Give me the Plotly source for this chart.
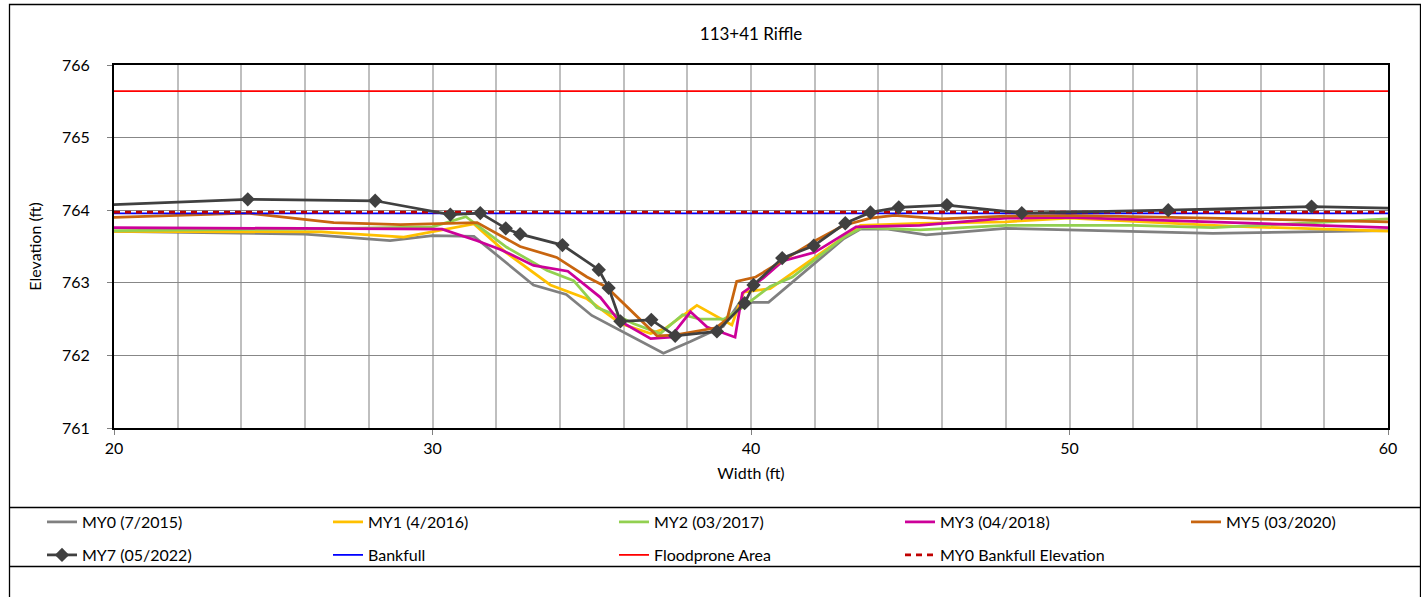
import plotly.graph_objects as go

# ---------------- data ----------------
my0_x = [20, 26, 28.67, 30.0, 31.3, 33.17, 34.2, 35.0, 37.25, 38.1, 39.13, 39.65, 40.55, 42.92, 43.44, 44.3, 45.5, 48.0, 54.5, 60]
my0_y = [763.71, 763.67, 763.58, 763.65, 763.64, 762.97, 762.84, 762.55, 762.03, 762.19, 762.40, 762.73, 762.73, 763.61, 763.74, 763.74, 763.66, 763.75, 763.68, 763.72]

my1_x = [20, 26.5, 29.1, 30.4, 31.3, 32.3, 33.7, 34.85, 35.9, 36.85, 37.3, 38.3, 39.4, 39.77, 40.6, 43.44, 45.3, 48.0, 50.0, 55, 60]
my1_y = [763.71, 763.70, 763.63, 763.74, 763.81, 763.42, 762.97, 762.78, 762.44, 762.30, 762.37, 762.69, 762.42, 762.87, 762.92, 763.79, 763.82, 763.84, 763.89, 763.78, 763.71]

my2_x = [20, 26, 30.0, 31.05, 32.33, 33.6, 34.43, 35.16, 35.8, 36.3, 37.15, 37.85, 38.4, 39.15, 39.7, 40.6, 41.3, 42.0, 42.92, 43.5, 45.3, 48, 52, 54.5, 60]
my2_y = [763.72, 763.74, 763.77, 763.91, 763.49, 763.17, 763.03, 762.66, 762.55, 762.44, 762.30, 762.56, 762.50, 762.50, 762.65, 762.95, 763.08, 763.32, 763.63, 763.76, 763.73, 763.79, 763.79, 763.76, 763.88]

my3_x = [20, 30.3, 31.4, 32.13, 33.17, 34.25, 35.27, 35.85, 36.85, 37.47, 38.1, 38.62, 39.5, 39.73, 40.4, 41.0, 42.0, 43.3, 45.3, 48.0, 50, 60]
my3_y = [763.76, 763.74, 763.58, 763.46, 763.24, 763.16, 762.80, 762.48, 762.23, 762.25, 762.60, 762.39, 762.25, 762.86, 763.07, 763.30, 763.42, 763.77, 763.79, 763.89, 763.90, 763.76]

my5_x = [20, 24.2, 26.9, 29.0, 31.4, 32.75, 33.9, 34.85, 35.47, 35.9, 37.05, 37.6, 38.9, 39.25, 39.55, 40.15, 41.0, 42.06, 42.9, 43.75, 44.5, 46, 48, 50, 60]
my5_y = [763.90, 763.96, 763.83, 763.80, 763.83, 763.50, 763.35, 763.08, 762.94, 762.76, 762.27, 762.28, 762.38, 762.50, 763.02, 763.08, 763.31, 763.59, 763.79, 763.89, 763.93, 763.88, 763.92, 763.93, 763.84]

my7_x = [19.0, 24.2, 28.2, 30.56, 31.5, 32.3, 32.75, 34.08, 35.22, 35.53, 35.9, 36.87, 37.62, 38.93, 39.8, 40.08, 40.98, 41.97, 42.96, 43.75, 44.64, 46.15, 48.5, 53.1, 57.6, 61.0]
my7_y = [764.06, 764.15, 764.13, 763.94, 763.96, 763.75, 763.67, 763.52, 763.18, 762.93, 762.47, 762.49, 762.27, 762.33, 762.72, 762.97, 763.34, 763.51, 763.82, 763.97, 764.04, 764.07, 763.96, 764.00, 764.05, 764.02]

ext_x = [20, 60]
bankfull_y = [763.957, 763.957]
floodprone_y = [765.64, 765.64]
my0_bkf_y = [763.975, 763.975]

title_text = "113+41 Riffle"
x_title = "Width (ft)"
y_title = "Elevation (ft)"

# ---------------- layout constants (pixels) ----------------
W, H = 1421, 597
ML, MR, MT, MB = 114, 33, 65, 169
PW, PH = W - ML - MR, H - MT - MB
COLW = 286       # legend column spacing
LEG_X0 = 42      # legend start

def px_x(p):
    return (p - ML) / PW

def px_y(p):
    return (H - MB - p) / PH

FONT = "Lato, 'Liberation Sans', sans-serif"

fig = go.Figure()

series = [
    ("MY0 (7/2015)", my0_x, my0_y, "#808080", "legend"),
    ("MY1 (4/2016)", my1_x, my1_y, "#FFC000", "legend"),
    ("MY2 (03/2017)", my2_x, my2_y, "#92D050", "legend"),
    ("MY3 (04/2018)", my3_x, my3_y, "#CC0099", "legend"),
    ("MY5 (03/2020)", my5_x, my5_y, "#C8650F", "legend3"),
]
for name, xs, ys, col, lg in series:
    fig.add_trace(go.Scatter(x=xs, y=ys, mode="lines", name=name,
                             line=dict(color=col, width=2.75), legend=lg))

fig.add_trace(go.Scatter(x=ext_x, y=bankfull_y, mode="lines", name="Bankfull",
                         line=dict(color="#0000FF", width=1.75), legend="legend2", legendrank=2))
fig.add_trace(go.Scatter(x=ext_x, y=floodprone_y, mode="lines", name="Floodprone Area",
                         line=dict(color="#FF0000", width=1.75), legend="legend2", legendrank=3))
fig.add_trace(go.Scatter(x=ext_x, y=my0_bkf_y, mode="lines", name="MY0 Bankfull Elevation",
                         line=dict(color="#C00000", width=2.75, dash="6px,5px"), legend="legend2",
                         legendrank=4))
fig.add_trace(go.Scatter(x=my7_x, y=my7_y, mode="lines+markers", name="MY7 (05/2022)",
                         line=dict(color="#404040", width=2.75),
                         marker=dict(symbol="diamond", size=11, color="#404040"),
                         legend="legend2", legendrank=1))

shapes = [
    # outer chart border
    dict(type="rect", xref="paper", yref="paper",
         x0=px_x(9.5), x1=px_x(1420.5), y0=px_y(600), y1=px_y(4.5),
         line=dict(color="#000000", width=1.3), fillcolor="rgba(0,0,0,0)", layer="below"),
    # legend box lines
    dict(type="line", xref="paper", yref="paper", x0=px_x(9.5), x1=px_x(1421),
         y0=px_y(507.5), y1=px_y(507.5), line=dict(color="#000000", width=1.3)),
    dict(type="line", xref="paper", yref="paper", x0=px_x(9.5), x1=px_x(1421),
         y0=px_y(566.5), y1=px_y(566.5), line=dict(color="#000000", width=1.3)),
]

leg_common = dict(orientation="h", entrywidth=COLW - 45, entrywidthmode="pixels",
                  font=dict(family=FONT, size=16, color="#000000"),
                  bgcolor="rgba(0,0,0,0)", borderwidth=0, xanchor="left", yanchor="middle",
                  traceorder="normal")

fig.update_layout(
    width=W, height=H,
    margin=dict(l=ML, r=MR, t=MT, b=MB, autoexpand=False),
    paper_bgcolor="#FFFFFF", plot_bgcolor="#FFFFFF",
    font=dict(family=FONT, size=16, color="#000000"),
    title=dict(text=title_text, x=0.5, xref="paper", y=1 - 34 / H, yanchor="middle",
               font=dict(family=FONT, size=17, color="#000000")),
    shapes=shapes,
    legend=dict(x=px_x(LEG_X0), y=px_y(522), **leg_common),
    legend3=dict(x=px_x(LEG_X0 + 4 * COLW), y=px_y(522), **leg_common),
    legend2=dict(x=px_x(LEG_X0), y=px_y(555), **leg_common),
    xaxis=dict(range=[20, 60], dtick=10, tick0=20, showgrid=True, gridcolor="#BFBFBF", gridwidth=1.5,
               minor=dict(dtick=2, showgrid=True, gridcolor="#BFBFBF", gridwidth=1.5),
               showline=True, linecolor="#000000", linewidth=2, mirror=True,
               ticks="outside", ticklen=5, tickcolor="#808080", zeroline=False,
               tickfont=dict(family=FONT, size=16),
               title=dict(text=x_title, standoff=12, font=dict(family=FONT, size=16)),
               automargin=False),
    yaxis=dict(range=[761, 766], dtick=1, showgrid=True, gridcolor="#878787", gridwidth=1.3,
               showline=True, linecolor="#000000", linewidth=2, mirror=True,
               ticks="outside", ticklen=5, tickcolor="#808080", zeroline=False,
               tickfont=dict(family=FONT, size=16), ticklabelstandoff=14,
               title=dict(text=y_title, standoff=16, font=dict(family=FONT, size=16)),
               automargin=False),
)

fig.write_html("out.html")
